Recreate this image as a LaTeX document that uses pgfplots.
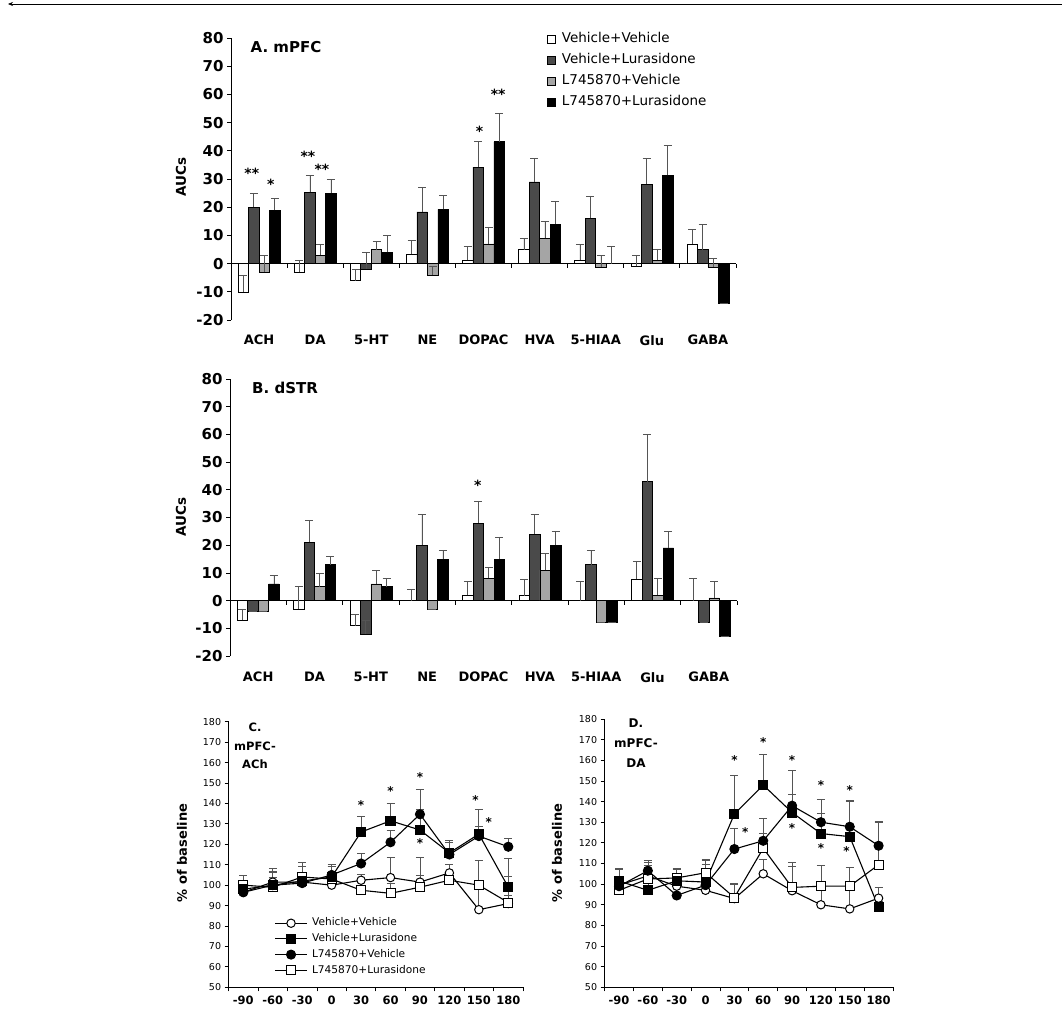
\documentclass[border=0pt]{standalone}
\usepackage{pgfplots}
\pgfplotsset{compat=1.18}
\usepackage{fontspec}
\setmainfont{DejaVu Sans}
\usetikzlibrary{arrows.meta}
\definecolor{dg}{HTML}{4A4A4A}
\definecolor{lg}{HTML}{A5A5A5}
\definecolor{eb}{HTML}{555555}
\pgfplotsset{
  /pgf/number format/assume math mode=true,
  errb/.style={/pgfplots/error bars/y dir=plus, /pgfplots/error bars/y explicit,
    /pgfplots/error bars/error bar style={line width=0.7pt, color=eb},
    /pgfplots/error bars/error mark options={rotate=90, mark size=4pt, line width=0.7pt, color=eb}},
  sqleg/.style={legend image code/.code={\draw[##1, draw=black, line width=0.6pt] (0pt,-4pt) rectangle (8pt,4pt);}},
  barpanel/.style={
    scale only axis,
    xmin=-0.5, xmax=8.5, ymin=-20, ymax=80,
    axis x line=middle, axis y line=left,
    axis line style={-, line width=0.8pt},
    hide obscured x ticks=false, hide obscured y ticks=false,
    ytick={-20,-10,...,80}, tick align=outside, major tick length=4pt,
    tick style={black, line width=0.8pt},
    xtick={-0.5,0.5,...,8.5}, xticklabels={},
    extra x ticks={0,1,...,8},
    extra x tick labels={ACH,DA,5-HT,NE,DOPAC,HVA,5-HIAA,Glu,GABA},
    extra x tick style={major tick length=0pt, tick label style={yshift=-68pt, font=\bfseries\fontsize{13}{15}\selectfont}},
    yticklabel style={font=\bfseries\fontsize{15}{16}\selectfont},
    ybar=0pt, bar width=10.5pt,
  },
  linepanel/.style={
    scale only axis,
    xmin=-0.5, xmax=9.5, ymin=50, ymax=180,
    axis x line=bottom, axis y line=left,
    axis line style={-, line width=0.8pt},
    ytick={50,60,...,180}, tick align=outside, major tick length=4pt,
    tick style={black, line width=0.8pt},
    xtick={-0.5,0.5,...,9.5}, xticklabels={},
    extra x ticks={0,1,...,9},
    extra x tick labels={-90,-60,-30,0,30,60,90,120,150,180},
    extra x tick style={major tick length=0pt, tick label style={yshift=-5pt, font=\bfseries\fontsize{11.5}{13}\selectfont}},
    yticklabel style={font=\fontsize{9.5}{10}\selectfont},
    legend image code/.code={\draw[mark repeat=2,mark phase=2,##1] plot coordinates {(0pt,0pt) (16pt,0pt) (32pt,0pt)};},
  },
  vv/.style={black, line width=1.1pt, mark=*, mark size=4.2pt, mark options={fill=white, solid, line width=1pt}},
  vl/.style={black, line width=1.1pt, mark=square*, mark size=4.5pt, mark options={fill=black, solid}},
  lv/.style={black, line width=1.1pt, mark=*, mark size=4.5pt, mark options={fill=black, solid}},
  ll/.style={black, line width=1.1pt, mark=square*, mark size=4.5pt, mark options={fill=white, solid, line width=1pt}},
}
\tikzset{
  bstar/.style={font=\bfseries\fontsize{14}{14}\selectfont, inner sep=0pt, anchor=base, yshift=-8.2pt},
  lstar/.style={font=\bfseries\fontsize{12}{12}\selectfont, inner sep=0pt, anchor=base, yshift=-7pt},
}
\begin{document}
\begin{tikzpicture}[x=1pt,y=1pt]
\useasboundingbox (0,0) rectangle (1062,-1009);
\draw[line width=0.6pt, {Stealth[length=5pt,width=4pt]}-] (8,-4) -- (1062,-4);

% ---------- Panel A ----------
\begin{axis}[barpanel, at={(231pt,-320pt)}, anchor=south west, width=505pt, height=282pt,
  legend style={at={(0.620,1.034)}, anchor=north west, draw=none, fill=none,
    font=\fontsize{13.5}{15}\selectfont, row sep=4pt, legend cell align=left,
    nodes={inner sep=2pt, text height=10pt, text depth=3pt},
    /tikz/every odd column/.append style={column sep=4pt}}]
\addplot[fill=white, draw=black, line width=0.6pt, sqleg, errb] coordinates {
 (0,-10) +- (0,6) (1,-3) +- (0,4) (2,-6) +- (0,4) (3,3.3) +- (0,5) (4,1.3) +- (0,4.7)
 (5,5) +- (0,4) (6,1.3) +- (0,5.7) (7,-1) +- (0,4) (8,7) +- (0,5)};
\addplot[fill=dg, draw=black, line width=0.6pt, sqleg, errb] coordinates {
 (0,20) +- (0,5) (1,25.3) +- (0,6) (2,-2) +- (0,6) (3,18.3) +- (0,8.7) (4,34.2) +- (0,9)
 (5,29) +- (0,8.3) (6,16) +- (0,8) (7,28.2) +- (0,9) (8,5) +- (0,9)};
\addplot[fill=lg, draw=black, line width=0.6pt, sqleg, errb] coordinates {
 (0,-3) +- (0,6) (1,3) +- (0,4) (2,5) +- (0,3) (3,-4) +- (0,3) (4,7) +- (0,6)
 (5,9) +- (0,6) (6,-1.2) +- (0,4) (7,1.2) +- (0,4) (8,-1.2) +- (0,3)};
\addplot[fill=black, draw=black, line width=0.6pt, sqleg, errb] coordinates {
 (0,19) +- (0,4) (1,25) +- (0,5) (2,4) +- (0,6) (3,19.2) +- (0,5) (4,43.2) +- (0,10)
 (5,14) +- (0,8) (6,0) +- (0,6) (7,31.3) +- (0,10.7) (8,-14) +- (0,0)};
\legend{Vehicle+Vehicle,Vehicle+Lurasidone,L745870+Vehicle,L745870+Lurasidone}
\node[bstar] at (axis cs:-0.13,33) {**};
\node[bstar] at (axis cs:0.21,29.2) {*};
\node[bstar] at (axis cs:0.87,39) {**};
\node[bstar] at (axis cs:1.12,34.5) {**};
\node[bstar] at (axis cs:3.93,47.9) {*};
\node[bstar] at (axis cs:4.26,61) {**};
\end{axis}
\node[font=\bfseries\fontsize{15}{17}\selectfont] at (286,-47) {A. mPFC};
\node[font=\bfseries\fontsize{13.5}{15}\selectfont, rotate=90] at (181,-177) {AUCs};

% ---------- Panel B ----------
\begin{axis}[barpanel, at={(230pt,-656pt)}, anchor=south west, width=507pt, height=277pt]
\addplot[fill=white, draw=black, line width=0.6pt, errb] coordinates {
 (0,-7) +- (0,4) (1,-3) +- (0,8) (2,-9) +- (0,4) (3,0) +- (0,4) (4,2) +- (0,5)
 (5,1.8) +- (0,6) (6,0) +- (0,7) (7,7.8) +- (0,6.2) (8,0) +- (0,8)};
\addplot[fill=dg, draw=black, line width=0.6pt, errb] coordinates {
 (0,-4) +- (0,0) (1,21) +- (0,8) (2,-12) +- (0,5) (3,20) +- (0,11) (4,28) +- (0,8)
 (5,24) +- (0,7) (6,13) +- (0,5) (7,43) +- (0,17) (8,-8) +- (0,0)};
\addplot[fill=lg, draw=black, line width=0.6pt, errb] coordinates {
 (0,-4) +- (0,0) (1,5) +- (0,5) (2,6) +- (0,5) (3,-3) +- (0,0) (4,8) +- (0,4)
 (5,11) +- (0,6) (6,-8) +- (0,0) (7,2) +- (0,6) (8,1) +- (0,6)};
\addplot[fill=black, draw=black, line width=0.6pt, errb] coordinates {
 (0,6) +- (0,3) (1,13) +- (0,3) (2,5) +- (0,3) (3,15) +- (0,3) (4,15) +- (0,8)
 (5,20) +- (0,5) (6,-8) +- (0,0) (7,19) +- (0,6) (8,-13) +- (0,0)};
\node[bstar] at (axis cs:3.9,42.7) {*};
\end{axis}
\node[font=\bfseries\fontsize{15}{17}\selectfont] at (285,-388) {B. dSTR};
\node[font=\bfseries\fontsize{13.5}{15}\selectfont, rotate=90] at (181,-517) {AUCs};

% ---------- Panel C ----------
\begin{axis}[linepanel, at={(228.6pt,-987.3pt)}, anchor=south west, width=294.4pt, height=265.6pt,
  legend style={at={(0.145,0.275)}, anchor=north west, draw=none, fill=none,
    font=\fontsize{10.6}{12}\selectfont, row sep=2.2pt, legend cell align=left,
    nodes={inner sep=1.5pt, text height=8pt, text depth=2.5pt},
    /tikz/every odd column/.append style={column sep=3pt}}]
\addlegendimage{vv}
\addlegendimage{vl}
\addlegendimage{lv}
\addlegendimage{ll}
\legend{Vehicle+Vehicle,Vehicle+Lurasidone,L745870+Vehicle,L745870+Lurasidone}
\addplot[vv, errb, forget plot] coordinates {
 (0,96.5) +- (0,3) (1,101.5) +- (0,5) (2,101.5) +- (0,4) (3,100) +- (0,3) (4,102.4) +- (0,3)
 (5,103.7) +- (0,10) (6,101.5) +- (0,12) (7,106) +- (0,4) (8,88) +- (0,24) (9,91) +- (0,4)};
\addplot[ll, errb, forget plot] coordinates {
 (0,100) +- (0,5) (1,99) +- (0,9) (2,104) +- (0,7) (3,103) +- (0,6) (4,97.5) +- (0,4)
 (5,96) +- (0,5) (6,99) +- (0,6) (7,102.4) +- (0,4) (8,100) +- (0,12) (9,91.5) +- (0,13)};
\addplot[lv, errb, forget plot] coordinates {
 (0,96.5) +- (0,4) (1,100) +- (0,7) (2,101) +- (0,8) (3,105) +- (0,5) (4,110.6) +- (0,5)
 (5,121) +- (0,6) (6,134.7) +- (0,12) (7,115) +- (0,6) (8,124) +- (0,5) (9,118.8) +- (0,4)};
\addplot[vl, errb, forget plot] coordinates {
 (0,98) +- (0,3) (1,100) +- (0,4) (2,102) +- (0,4) (3,104) +- (0,5) (4,126) +- (0,7.6)
 (5,131.5) +- (0,8.5) (6,127) +- (0,10) (7,115.8) +- (0,6) (8,125) +- (0,12) (9,99) +- (0,14)};
\node[lstar] at (axis cs:4,140.4) {*};
\node[lstar] at (axis cs:5,147.5) {*};
\node[lstar] at (axis cs:6,154.4) {*};
\node[lstar] at (axis cs:6,122) {*};
\node[lstar] at (axis cs:7.89,143) {*};
\node[lstar] at (axis cs:8.34,132) {*};
\end{axis}
\node[font=\bfseries\fontsize{11.5}{18.5}\selectfont, align=center] at (255,-746) {C.\\mPFC-\\ACh};
\node[font=\bfseries\fontsize{13}{15}\selectfont, rotate=90] at (182,-853) {\% of baseline};

% ---------- Panel D ----------
\begin{axis}[linepanel, at={(604.6pt,-987.3pt)}, anchor=south west, width=288.4pt, height=268.3pt]
\addplot[vv, errb] coordinates {
 (0,99.5) +- (0,4) (1,104) +- (0,5) (2,99) +- (0,5) (3,97) +- (0,5) (4,93) +- (0,7)
 (5,105) +- (0,7) (6,96.8) +- (0,12) (7,90) +- (0,19) (8,88) +- (0,20) (9,93.2) +- (0,5)};
\addplot[ll, errb] coordinates {
 (0,97) +- (0,10) (1,102.5) +- (0,8) (2,103) +- (0,4) (3,105.5) +- (0,6) (4,93.5) +- (0,7)
 (5,117.4) +- (0,7) (6,98.4) +- (0,12) (7,99) +- (0,10) (8,99) +- (0,9) (9,109.4) +- (0,21)};
\addplot[vl, errb] coordinates {
 (0,101.5) +- (0,6) (1,97) +- (0,4) (2,101.6) +- (0,6) (3,101) +- (0,11) (4,134) +- (0,18.5)
 (5,148) +- (0,15) (6,134.7) +- (0,9) (7,124.5) +- (0,10) (8,123) +- (0,17) (9,88.7) +- (0,3)};
\addplot[lv, errb] coordinates {
 (0,99) +- (0,3) (1,106.5) +- (0,5) (2,94.5) +- (0,8) (3,99.5) +- (0,10) (4,117) +- (0,10)
 (5,121) +- (0,11) (6,138) +- (0,17) (7,130) +- (0,11) (8,127.8) +- (0,13) (9,118.6) +- (0,11.5)};
\node[lstar] at (axis cs:4,161.4) {*};
\node[lstar] at (axis cs:4.38,126.6) {*};
\node[lstar] at (axis cs:5,170) {*};
\node[lstar] at (axis cs:6,161.4) {*};
\node[lstar] at (axis cs:6,128.3) {*};
\node[lstar] at (axis cs:7,149.3) {*};
\node[lstar] at (axis cs:7,118.5) {*};
\node[lstar] at (axis cs:8,147) {*};
\node[lstar] at (axis cs:7.89,117.2) {*};
\end{axis}
\node[font=\bfseries\fontsize{12}{20}\selectfont, align=center] at (636,-743) {D.\\mPFC-\\DA};
\node[font=\bfseries\fontsize{13}{15}\selectfont, rotate=90] at (557,-853) {\% of baseline};
\end{tikzpicture}
\end{document}
